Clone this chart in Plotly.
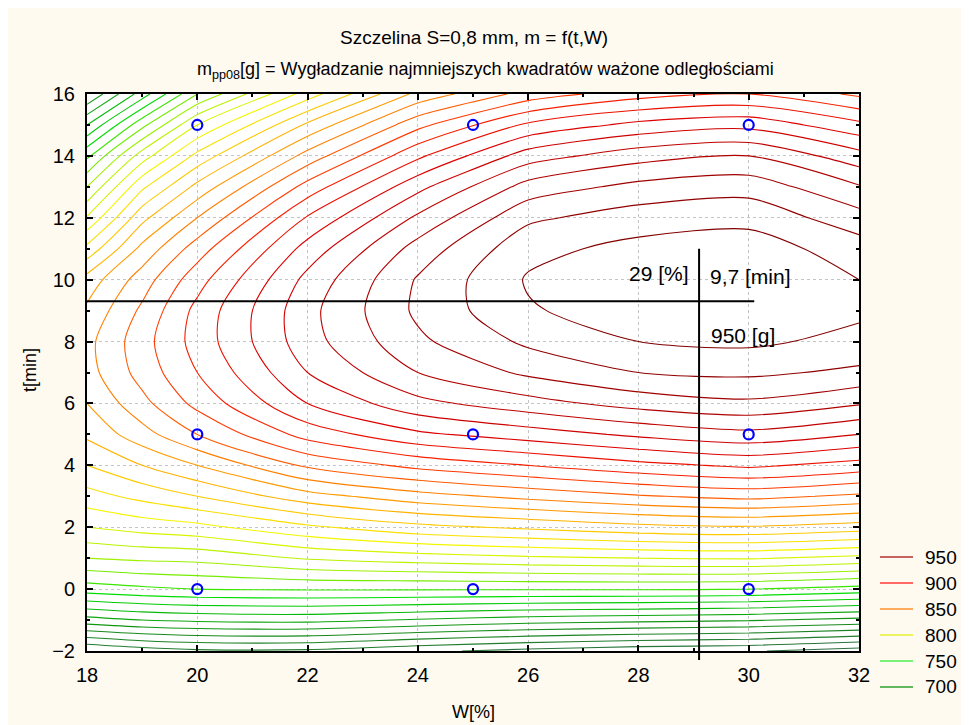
import plotly.graph_objects as go

# ---------------- data ----------------
W_grid = [18, 19, 20, 22, 24, 26, 28, 30, 32]
t_grid = [-2, -1, 0, 1, 2, 3, 4, 5, 6, 7, 8, 9, 10, 11, 12, 13, 14, 15, 16]

# m [g] estimated at each t of t_grid, one list per W column
m_W18 = [660, 706, 745, 770, 790, 806, 820, 832, 840, 846, 847, 842, 834, 813, 791, 770, 748, 720, 690]
m_W19 = [665, 710, 748, 772, 794, 813, 830, 846, 857, 864, 866, 862, 855, 843, 827, 808, 785, 757, 725]
m_W20 = [668, 712, 750, 773, 797, 820, 840, 860, 873, 880, 884, 883, 876, 865, 850, 833, 813, 790, 760]
m_W22 = [668, 713, 751, 781, 808, 836, 862, 884, 900, 910, 916, 917, 913, 904, 891, 874, 854, 832, 805]
m_W24 = [662, 709, 751, 785, 817, 846, 873, 898, 917, 930, 938, 942, 941, 934, 922, 907, 888, 867, 843]
m_W26 = [657, 705, 751, 788, 822, 853, 880, 905, 926, 942, 952, 959, 961, 957, 948, 934, 915, 892, 864]
m_W28 = [653, 703, 751, 790, 827, 859, 887, 912, 934, 950, 960, 965, 966, 963, 955, 943, 926, 903, 876]
m_W30 = [651, 701, 750, 791, 829, 863, 892, 917, 938, 952, 962, 967, 968, 965, 957, 946, 930, 907, 880]
m_W32 = [645, 697, 746, 787, 825, 858, 886, 910, 931, 948, 957, 962, 960, 955, 944, 931, 914, 893, 868]

# experimental points
pts_W = [20, 20, 20, 25, 25, 25, 30, 30, 30]
pts_t = [0, 5, 15, 0, 5, 15, 0, 5, 15]

# optimum read-out
opt_W = 29.1
opt_t_line = 9.3
hline_end_W = 30.1
vline_top_t = 11.0
label_W = "29 [%]"
label_t = "9,7 [min]"
label_m = "950 [g]"

# legend
legend_levels = ["950", "900", "850", "800", "750", "700"]
legend_colors = ["#b03030", "#ff3a3a", "#ff9030", "#e4f030", "#4cf04c", "#2fa02f"]

title_1 = "Szczelina S=0,8 mm, m = f(t,W)"
title_2 = "m<sub>pp08</sub>[g] = Wygładzanie najmniejszych kwadratów ważone odległościami"
x_title = "W[%]"
y_title = "t[min]"

# ---------------- figure ----------------
cols = [m_W18, m_W19, m_W20, m_W22, m_W24, m_W26, m_W28, m_W30, m_W32]
z = [list(r) for r in zip(*cols)]

zmin, zmax = 650, 960
def pos(v):
    return (v - zmin) / (zmax - zmin)

colorscale = [
    [0.0, "#2f6f45"],
    [pos(695), "#158c15"],
    [pos(740), "#00dd00"],
    [pos(765), "#90f000"],
    [pos(800), "#f5f500"],
    [pos(825), "#ffc000"],
    [pos(850), "#ff8000"],
    [pos(875), "#ff2800"],
    [pos(900), "#dd0000"],
    [pos(930), "#b00000"],
    [1.0, "#800000"],
]

FONT = "Liberation Sans, Arial, sans-serif"

fig = go.Figure()
fig.add_trace(go.Contour(
    x=W_grid, y=t_grid, z=z,
    contours=dict(start=650, end=960, size=10, coloring="lines"),
    line=dict(width=1.1, smoothing=0.8),
    colorscale=colorscale, zmin=zmin, zmax=zmax, zauto=False,
    showscale=False, hoverinfo="skip",
))
fig.add_trace(go.Scatter(
    x=pts_W, y=pts_t, mode="markers",
    marker=dict(symbol="circle-open", size=10, color="#0000ff", line=dict(width=2.2, color="#0000ff")),
    showlegend=False, hoverinfo="skip",
))

# the page body has an 8 px margin: the figure is sized so that the page is 969 x 725
OFF = 8
X0, X1, Y0, Y1 = 18, 32, -2, 16
PLOT_L, PLOT_R, PLOT_T, PLOT_B = 87, 859, 94, 651   # plot area in page pixels
W_PX, H_PX = 969 - OFF, 725 - OFF
L, T = PLOT_L - OFF, PLOT_T - OFF
pw, ph = PLOT_R - PLOT_L, PLOT_B - PLOT_T
R, B = W_PX - L - pw, H_PX - T - ph

def px_to_paper_x(px):
    return (px - PLOT_L) / pw

def px_to_paper_y(py):
    return (PLOT_B - py) / ph

shapes = [
    dict(type="line", xref="x", yref="y", x0=X0, x1=hline_end_W, y0=opt_t_line, y1=opt_t_line,
         line=dict(color="black", width=2)),
    dict(type="line", xref="paper", yref="paper",
         x0=(opt_W - X0) / (X1 - X0), x1=(opt_W - X0) / (X1 - X0),
         y0=px_to_paper_y(660), y1=(vline_top_t - Y0) / (Y1 - Y0),
         line=dict(color="black", width=2)),
]
annotations = [
    dict(text=label_W, x=opt_W, y=10.2, xref="x", yref="y", xanchor="right", yanchor="middle",
         xshift=-8, showarrow=False, font=dict(size=21, family=FONT, color="black")),
    dict(text=label_t, x=opt_W, y=10.1, xref="x", yref="y", xanchor="left", yanchor="middle",
         xshift=9, showarrow=False, font=dict(size=21, family=FONT, color="black")),
    dict(text=label_m, x=opt_W, y=8.2, xref="x", yref="y", xanchor="left", yanchor="middle",
         xshift=10, showarrow=False, font=dict(size=21, family=FONT, color="black")),
    dict(text=title_1, x=px_to_paper_x(474), y=px_to_paper_y(38), xref="paper", yref="paper",
         xanchor="center", yanchor="middle", showarrow=False, font=dict(size=19, family=FONT, color="black")),
    dict(text=title_2, x=px_to_paper_x(485), y=px_to_paper_y(71), xref="paper", yref="paper",
         xanchor="center", yanchor="middle", showarrow=False, font=dict(size=18, family=FONT, color="black")),
    dict(text=x_title, x=px_to_paper_x(473), y=px_to_paper_y(712), xref="paper", yref="paper",
         xanchor="center", yanchor="middle", showarrow=False, font=dict(size=18, family=FONT, color="black")),
    dict(text=y_title, x=px_to_paper_x(30), y=px_to_paper_y(370), xref="paper", yref="paper",
         xanchor="center", yanchor="middle", textangle=-90, showarrow=False,
         font=dict(size=18, family=FONT, color="black")),
]
for i, (lev, col) in enumerate(zip(legend_levels, legend_colors)):
    ypx = 557 + i * 26
    shapes.append(dict(type="line", xref="paper", yref="paper",
                       x0=px_to_paper_x(880), x1=px_to_paper_x(913),
                       y0=px_to_paper_y(ypx), y1=px_to_paper_y(ypx),
                       line=dict(color=col, width=1.6)))
    annotations.append(dict(text=lev, x=px_to_paper_x(923), y=px_to_paper_y(ypx), xref="paper", yref="paper",
                            xanchor="left", yanchor="middle", showarrow=False,
                            font=dict(size=19, family=FONT, color="black")))

axis_common = dict(
    ticks="inside", ticklen=6, tickwidth=1.5, tickcolor="black",
    showline=True, linecolor="black", linewidth=2, mirror="allticks",
    showgrid=True, gridcolor="#c4c4c4", griddash="dot", gridwidth=1,
    zeroline=False, tickfont=dict(size=20, family=FONT, color="black"),
    minor=dict(dtick=1, ticks="inside", ticklen=3, tickcolor="black", showgrid=False),
)

fig.update_layout(
    width=W_PX, height=H_PX,
    margin=dict(l=L, r=R, t=T, b=B),
    paper_bgcolor="#FFFAF0", plot_bgcolor="white",
    showlegend=False,
    shapes=shapes, annotations=annotations,
    font=dict(family=FONT, color="black"),
    xaxis=dict(range=[X0, X1], dtick=2, tick0=18, ticklabelstandoff=5, **axis_common),
    yaxis=dict(range=[Y0, Y1], dtick=2, tick0=0, ticklabelstandoff=6, **axis_common),
)

fig.write_html("out.html")
